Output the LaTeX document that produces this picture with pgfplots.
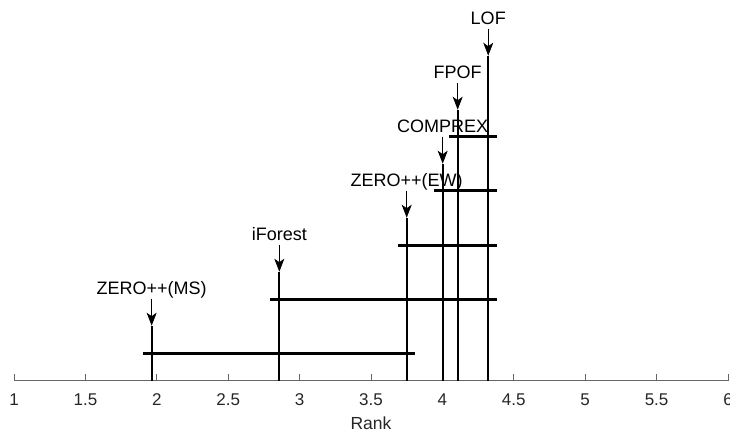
\documentclass[border=0pt]{standalone}
\usepackage{fontspec}
\setmainfont{Liberation Sans}
\usepackage{pgfplots}
\usepackage{pgfplotstable}
\pgfplotsset{compat=1.18}
\usetikzlibrary{arrows.meta}
\pgfplotstableread{
rank tip label
1.964 55 {ZERO++(MS)}
2.858 109 iForest
3.750 163 {ZERO++(EW)}
4.002 217 COMPREX
4.107 271 FPOF
4.321 325 LOF
}\methods
\begin{document}
\begin{tikzpicture}[x=1pt,y=1pt]
\begin{axis}[
  scale only axis, width=714pt, height=380.7pt,
  xmin=1, xmax=6, ymin=0, ymax=380.7,
  axis x line=bottom, axis y line=none,
  axis line style={black!60, line width=0.8pt, -},
  xtick={1,1.5,2,2.5,3,3.5,4,4.5,5,5.5,6},
  xticklabels={1,1.5,2,2.5,3,3.5,4,4.5,5,5.5,6},
  tick align=inside, major tick length=7pt,
  tick style={black!60, line width=0.8pt},
  xticklabel style={anchor=base, yshift=-25pt, inner sep=0pt, font=\fontsize{17}{17}\selectfont, text=black!85},
  /pgf/number format/assume math mode=true,
  xlabel={Rank},
  xlabel style={at={(axis description cs:0.5,0)}, anchor=base, yshift=-48.5pt, inner sep=0pt, font=\fontsize{17.5}{17.5}\selectfont, text=black!85},
  clip=false,
]
% vertical rank lines
\addplot[black, line width=2pt] coordinates {(1.964,0) (1.964,55)};
\addplot[black, line width=2pt] coordinates {(2.858,0) (2.858,109)};
\addplot[black, line width=2pt] coordinates {(3.750,0) (3.750,163)};
\addplot[black, line width=2pt] coordinates {(4.002,0) (4.002,217)};
\addplot[black, line width=2pt] coordinates {(4.107,0) (4.107,271)};
\addplot[black, line width=2pt] coordinates {(4.321,0) (4.321,325)};
% arrows
\addplot[black, line width=0.8pt, -{Stealth[length=13pt,width=10pt,inset=3.5pt]}] coordinates {(1.964,82) (1.964,55)};
\addplot[black, line width=0.8pt, -{Stealth[length=13pt,width=10pt,inset=3.5pt]}] coordinates {(2.858,136) (2.858,109)};
\addplot[black, line width=0.8pt, -{Stealth[length=13pt,width=10pt,inset=3.5pt]}] coordinates {(3.750,190) (3.750,163)};
\addplot[black, line width=0.8pt, -{Stealth[length=13pt,width=10pt,inset=3.5pt]}] coordinates {(4.002,244) (4.002,217)};
\addplot[black, line width=0.8pt, -{Stealth[length=13pt,width=10pt,inset=3.5pt]}] coordinates {(4.107,298) (4.107,271)};
\addplot[black, line width=0.8pt, -{Stealth[length=13pt,width=10pt,inset=3.5pt]}] coordinates {(4.321,352) (4.321,325)};
% clique bars
\addplot[black, line width=3.5pt] coordinates {(1.906,27) (3.808,27)};
\addplot[black, line width=3.5pt] coordinates {(2.793,81) (4.380,81)};
\addplot[black, line width=3.5pt] coordinates {(3.691,135) (4.380,135)};
\addplot[black, line width=3.5pt] coordinates {(3.943,190) (4.380,190)};
\addplot[black, line width=3.5pt] coordinates {(4.049,244) (4.380,244)};
% labels
\addplot[only marks, mark=none, nodes near coords, point meta=explicit symbolic,
  nodes near coords style={anchor=base, inner sep=0pt, font=\fontsize{18}{18}\selectfont, text=black}]
  table[x=rank, y expr=\thisrow{tip}+31, meta=label] {\methods};
\end{axis}
\pgfresetboundingbox
\useasboundingbox (-14,-50.3) rectangle (716,380.7);
\end{tikzpicture}
\end{document}
